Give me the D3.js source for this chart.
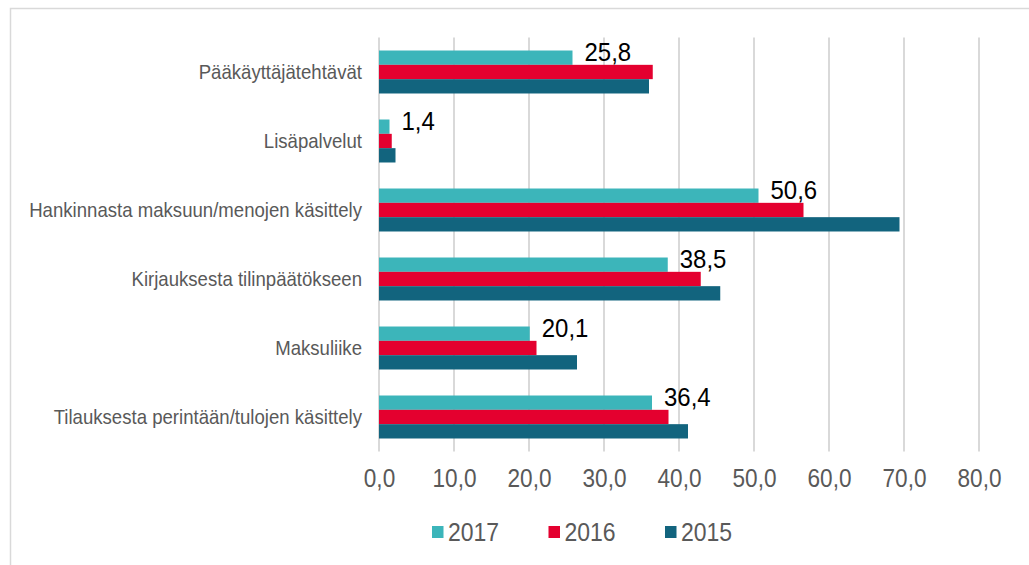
<!DOCTYPE html>
<html>
<head>
<meta charset="utf-8">
<script src="https://cdn.jsdelivr.net/npm/d3@7"></script>
<style>
  html, body { margin: 0; padding: 0; background: #fff; }
  svg { display: block; font-family: "Liberation Sans", Arial, sans-serif; }
</style>
</head>
<body>
<svg id="chart" width="1029" height="565"></svg>
<script>
const categories = [
  "Pääkäyttäjätehtävät",
  "Lisäpalvelut",
  "Hankinnasta maksuun/menojen käsittely",
  "Kirjauksesta tilinpäätökseen",
  "Maksuliike",
  "Tilauksesta perintään/tulojen käsittely"
];
const seriesNames = ["2017", "2016", "2015"];
const values2017 = [25.8, 1.4, 50.6, 38.5, 20.1, 36.4];
const values2016 = [36.5, 1.7, 56.6, 42.9, 21.0, 38.6];
const values2015 = [36.0, 2.2, 69.4, 45.5, 26.4, 41.2];
const xTicks = [0, 10, 20, 30, 40, 50, 60, 70, 80];
const colors = ["#3CB5BA", "#E4002F", "#12647E"];

const seriesValues = [values2017, values2016, values2015];
const fmt = v => d3.format(".1f")(v).replace(".", ",");
const STRETCH = 1.1;

const svg = d3.select("#chart");

// outer border
svg.append("rect")
  .attr("x", 10.5).attr("y", 8.5)
  .attr("width", 1040).attr("height", 600)
  .attr("fill", "none").attr("stroke", "#D9D9D9").attr("stroke-width", 1.5);

const plot = { left: 379, right: 979, top: 37.5, bottom: 451.5 };

const x = d3.scaleLinear().domain([0, 80]).range([plot.left, plot.right]);
const y0 = d3.scaleBand().domain(categories)
  .range([plot.top, plot.bottom])
  .paddingInner(0.377).paddingOuter(0.1885);
const y1 = d3.scaleBand().domain(seriesNames).range([0, y0.bandwidth()]);

// gridlines
svg.append("g").selectAll("line").data(xTicks).join("line")
  .attr("x1", d => x(d)).attr("x2", d => x(d))
  .attr("y1", plot.top).attr("y2", plot.bottom)
  .attr("stroke", "#D9D9D9").attr("stroke-width", 2);

// bars
const groups = svg.append("g").selectAll("g").data(categories).join("g")
  .attr("transform", c => `translate(0,${y0(c)})`);

groups.selectAll("rect")
  .data((c, i) => seriesNames.map((s, j) => ({ s, v: seriesValues[j][i], color: colors[j] })))
  .join("rect")
  .attr("x", x(0))
  .attr("y", d => y1(d.s))
  .attr("width", d => x(d.v) - x(0))
  .attr("height", y1.bandwidth())
  .attr("fill", d => d.color);

// helper: place text with slight vertical stretch
function place(sel, fx, fy) {
  sel.attr("transform", (d, i) => `translate(${fx(d, i)},${fy(d, i)}) scale(1,${STRETCH})`);
}

// data labels (2017 only)
svg.append("g").selectAll("text").data(categories).join("text")
  .call(place, (c, i) => x(values2017[i]) + 12,
               c => y0(c) + y1("2017") + y1.bandwidth() / 2 - 6)
  .attr("dominant-baseline", "central")
  .attr("font-size", 24)
  .attr("fill", "#000")
  .text((c, i) => fmt(values2017[i]));

// category axis labels
svg.append("g").selectAll("text").data(categories).join("text")
  .call(place, () => 362, c => y0(c) + y0.bandwidth() / 2)
  .attr("text-anchor", "end")
  .attr("dominant-baseline", "central")
  .attr("font-size", 18.6)
  .attr("fill", "#595959")
  .text(c => c);

// x axis
const xAxis = svg.append("g")
  .attr("transform", `translate(0,${plot.bottom})`)
  .call(d3.axisBottom(x).tickValues(xTicks).tickSize(0).tickPadding(18).tickFormat(fmt));
xAxis.select(".domain").remove();
xAxis.selectAll("text")
  .attr("y", 0).attr("dy", null)
  .attr("transform", `translate(0,27) scale(1,${STRETCH})`)
  .attr("dominant-baseline", "central")
  .attr("font-size", 22.6)
  .attr("font-family", "'Liberation Sans', Arial, sans-serif")
  .attr("fill", "#595959");

// legend
const legend = svg.append("g").selectAll("g").data(seriesNames).join("g")
  .attr("transform", (d, i) => `translate(${432 + i * 116.5},532)`);
legend.append("rect")
  .attr("x", 0).attr("y", -6).attr("width", 11.5).attr("height", 12)
  .attr("fill", (d, i) => colors[i]);
legend.append("text")
  .attr("transform", `translate(16,0) scale(1,${STRETCH})`)
  .attr("dominant-baseline", "central")
  .attr("font-size", 23)
  .attr("fill", "#595959")
  .text(d => d);
</script>
</body>
</html>
